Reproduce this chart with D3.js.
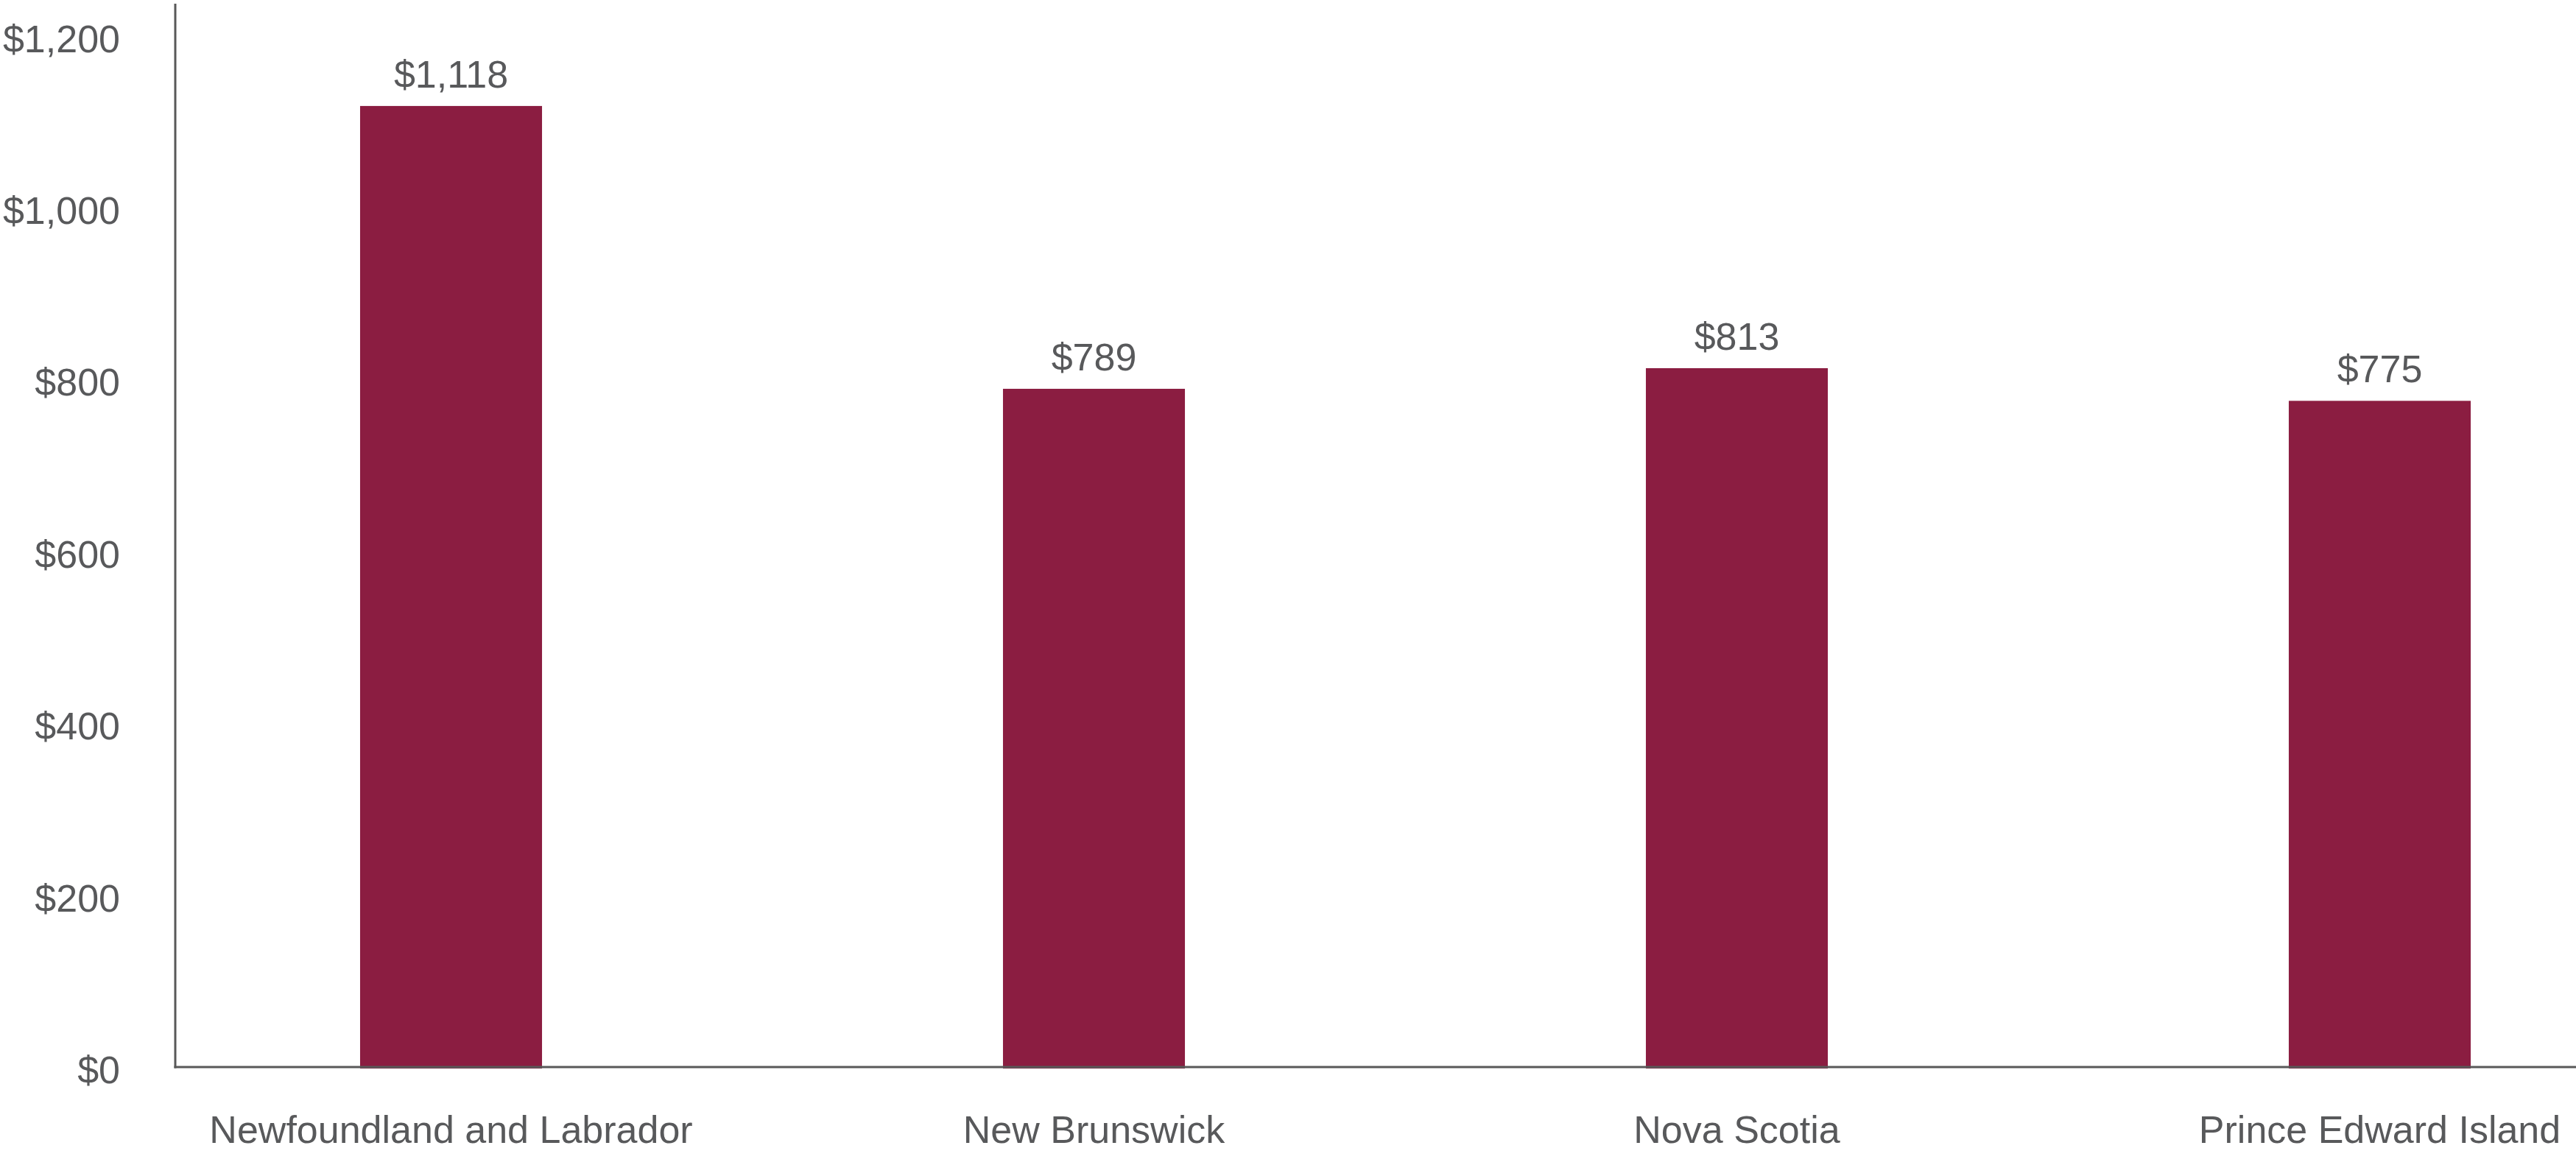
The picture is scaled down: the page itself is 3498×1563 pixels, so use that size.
<!DOCTYPE html>
<html>
<head>
<meta charset="utf-8">
<script src="https://cdn.jsdelivr.net/npm/d3@7"></script>
<style>
  html, body { margin: 0; padding: 0; background: #ffffff; }
  svg { display: block; }
  text { font-family: "Liberation Sans", Arial, sans-serif; }
</style>
</head>
<body>
<script>
// Provinces and their values (dollars)
const provinces = ["Newfoundland and Labrador", "New Brunswick", "Nova Scotia", "Prince Edward Island"];
const amounts = [1118, 789, 813, 775];
const yTicks = [0, 200, 400, 600, 800, 1000, 1200];

const W = 3498, H = 1563;
const axisX = 238, axisY = 1449, plotTop = 5;
const textColor = "#58595B", axisColor = "#595959", barColor = "#8B1D41";

const svg = d3.select("body").append("svg")
  .attr("width", W).attr("height", H);

const y = d3.scaleLinear().domain([0, 1237]).range([axisY, plotTop]);

const x = d3.scaleBand()
  .domain(provinces)
  .range([176, 3668])
  .paddingInner(0.717)
  .paddingOuter(0.717 / 2);

const fmt = v => "$" + d3.format(",")(v);

const data = provinces.map((p, i) => ({ name: p, value: amounts[i] }));

// Bars
svg.append("g").selectAll("rect")
  .data(data)
  .join("rect")
  .attr("x", d => x(d.name))
  .attr("width", x.bandwidth())
  .attr("y", d => y(d.value))
  .attr("height", d => axisY - y(d.value) + 2)
  .attr("fill", barColor);

// Value labels above bars
svg.append("g").selectAll("text")
  .data(data)
  .join("text")
  .attr("x", d => x(d.name) + x.bandwidth() / 2)
  .attr("y", d => y(d.value) - 25)
  .attr("text-anchor", "middle")
  .attr("font-size", 52)
  .attr("fill", textColor)
  .text(d => fmt(d.value));

// Y axis
const yAxis = svg.append("g")
  .attr("transform", `translate(${axisX},0)`)
  .call(d3.axisLeft(y).tickValues(yTicks).tickSize(0).tickPadding(75).tickFormat(fmt));
yAxis.select(".domain").remove();
yAxis.selectAll("text")
  .attr("dy", "0.42em")
  .attr("font-size", 52)
  .attr("font-family", "'Liberation Sans', Arial, sans-serif")
  .attr("fill", textColor);

// X axis labels
const xAxis = svg.append("g")
  .attr("transform", `translate(0,${axisY})`)
  .call(d3.axisBottom(x).tickSize(0).tickPadding(66));
xAxis.select(".domain").remove();
xAxis.selectAll("text")
  .attr("font-size", 52)
  .attr("font-family", "'Liberation Sans', Arial, sans-serif")
  .attr("fill", textColor);

// Axis lines
svg.append("line")
  .attr("x1", axisX).attr("x2", axisX)
  .attr("y1", plotTop).attr("y2", axisY + 1.5)
  .attr("stroke", axisColor).attr("stroke-width", 3);
svg.append("line")
  .attr("x1", axisX - 1.5).attr("x2", W)
  .attr("y1", axisY).attr("y2", axisY)
  .attr("stroke", axisColor).attr("stroke-width", 3);
</script>
</body>
</html>
